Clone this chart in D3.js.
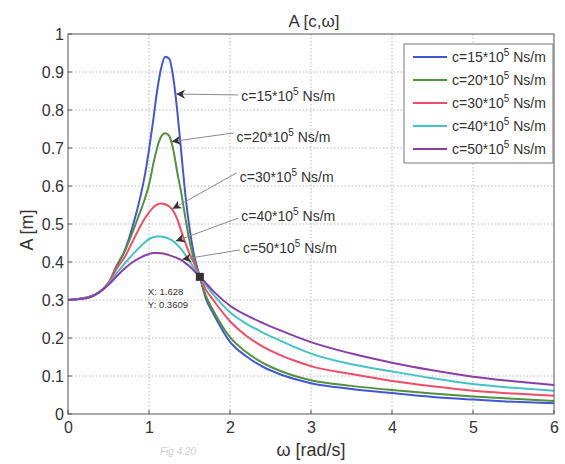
<!DOCTYPE html>
<html>
<head>
<meta charset="utf-8">
<script src="https://cdn.jsdelivr.net/npm/d3@7"></script>
<style>
  body { margin: 0; background: #fff; }
  text { font-family: "Liberation Sans", Arial, sans-serif; fill: #333; }
</style>
</head>
<body>
<div id="chart"></div>
<script>
// frequency samples (rad/s)
const omega = [0, 0.25, 0.5, 0.6, 0.7, 0.8, 0.9, 0.95, 1.0, 1.05, 1.1, 1.15, 1.2, 1.25, 1.3, 1.35,
  1.4, 1.45, 1.5, 1.55, 1.628, 1.7, 1.8, 2.0, 2.2, 2.4, 2.6, 2.8, 3.0, 3.5, 4.0, 4.5, 5.0, 5.5, 6.0];

// amplitude A [m] for each damping value
const ampC15 = [0.300, 0.307, 0.345, 0.390, 0.430, 0.495, 0.578, 0.630, 0.695, 0.770, 0.850, 0.910, 0.940, 0.935, 0.885, 0.795,
  0.685, 0.575, 0.490, 0.425, 0.361, 0.305, 0.262, 0.190, 0.152, 0.125, 0.106, 0.092, 0.081, 0.066, 0.055, 0.045, 0.038, 0.032, 0.028];
const ampC20 = [0.300, 0.307, 0.345, 0.388, 0.428, 0.480, 0.537, 0.567, 0.603, 0.655, 0.700, 0.730, 0.739, 0.732, 0.695, 0.635,
  0.580, 0.515, 0.455, 0.410, 0.361, 0.312, 0.270, 0.202, 0.163, 0.135, 0.115, 0.100, 0.089, 0.074, 0.063, 0.054, 0.046, 0.040, 0.034];
const ampC30 = [0.300, 0.307, 0.344, 0.382, 0.413, 0.455, 0.497, 0.515, 0.530, 0.543, 0.551, 0.554, 0.552, 0.546, 0.534, 0.512,
  0.480, 0.450, 0.422, 0.400, 0.361, 0.328, 0.298, 0.244, 0.206, 0.178, 0.157, 0.140, 0.126, 0.105, 0.087, 0.073, 0.061, 0.054, 0.048];
const ampC40 = [0.300, 0.306, 0.342, 0.370, 0.396, 0.420, 0.442, 0.452, 0.460, 0.465, 0.467, 0.467, 0.465, 0.461, 0.455, 0.445,
  0.433, 0.418, 0.402, 0.386, 0.361, 0.340, 0.313, 0.268, 0.238, 0.215, 0.195, 0.176, 0.159, 0.131, 0.112, 0.094, 0.079, 0.069, 0.061];
const ampC50 = [0.300, 0.306, 0.340, 0.362, 0.383, 0.400, 0.412, 0.417, 0.421, 0.424, 0.424, 0.423, 0.421, 0.418, 0.414, 0.410,
  0.405, 0.397, 0.389, 0.378, 0.361, 0.345, 0.322, 0.285, 0.260, 0.240, 0.222, 0.205, 0.189, 0.159, 0.135, 0.115, 0.098, 0.086, 0.076];

const damping = ["15", "20", "30", "40", "50"];
const amps = [ampC15, ampC20, ampC30, ampC40, ampC50];
const colors = ["#4257d6", "#53923a", "#f04c68", "#45c2c6", "#8a3fa6"];

const xTicks = [0, 1, 2, 3, 4, 5, 6];
const yTicks = [0, 0.1, 0.2, 0.3, 0.4, 0.5, 0.6, 0.7, 0.8, 0.9, 1];

// annotation arrows (tip on curve, text start)
const tipW = [1.335, 1.28, 1.29, 1.33, 1.41];
const tipA = [0.842, 0.717, 0.540, 0.455, 0.407];
const labelW = [2.14, 2.08, 2.12, 2.14, 2.16];
const labelA = [0.837, 0.729, 0.624, 0.521, 0.437];

// data tip
const markW = 1.628;
const markA = 0.3609;

let margin = { top: 34, right: 11, bottom: 50, left: 68 };
let width = 565 - margin.left - margin.right;
let height = 464 - margin.top - margin.bottom;

let svg = d3.select('#chart')
    .append('svg')
        .attr('width', 565)
        .attr('height', 464);

let g = svg.append('g')
    .attr('transform', "translate(" + margin.left + "," + margin.top + ")");

let defs = svg.append('defs');
defs.append('marker')
    .attr('id', 'head')
    .attr('viewBox', '0 0 10 10')
    .attr('refX', 10).attr('refY', 5)
    .attr('markerWidth', 9).attr('markerHeight', 9)
    .attr('markerUnits', 'userSpaceOnUse')
    .attr('orient', 'auto')
    .append('path')
        .attr('d', 'M0,0 L10,5 L0,10 L3,5 Z')
        .attr('fill', '#333');

let x = d3.scaleLinear().domain([0, 6]).range([0, width]);
let y = d3.scaleLinear().domain([0, 1]).range([height, 0]);

// grid
g.append('g')
    .selectAll('line')
    .data(xTicks.slice(1, -1))
    .enter().append('line')
        .attr('x1', d => x(d)).attr('x2', d => x(d))
        .attr('y1', 0).attr('y2', height)
        .attr('stroke', '#b8b8b8')
        .attr('stroke-dasharray', '1.5,2');

g.append('g')
    .selectAll('line')
    .data(yTicks.slice(1, -1))
    .enter().append('line')
        .attr('y1', d => y(d)).attr('y2', d => y(d))
        .attr('x1', 0).attr('x2', width)
        .attr('stroke', '#b8b8b8')
        .attr('stroke-dasharray', '1.5,2');

// axes
let xAxis = g.append('g')
    .attr('transform', "translate(0," + height + ")")
    .call(d3.axisBottom(x).tickValues(xTicks).tickSize(0).tickPadding(8).tickFormat(d3.format('d')));
let yAxis = g.append('g')
    .call(d3.axisLeft(y).tickValues(yTicks).tickSize(0).tickPadding(4).tickFormat(d => d));

[xAxis, yAxis].forEach(function (a) {
    a.select('.domain').remove();
    a.selectAll('text').attr('font-size', '16px').attr('fill', '#333')
        .attr('font-family', '"Liberation Sans", Arial, sans-serif');
});

// small inward ticks like matlab
g.append('g').selectAll('line').data(xTicks).enter().append('line')
    .attr('x1', d => x(d)).attr('x2', d => x(d))
    .attr('y1', height).attr('y2', height - 4)
    .attr('stroke', '#555');
g.append('g').selectAll('line').data(yTicks).enter().append('line')
    .attr('y1', d => y(d)).attr('y2', d => y(d))
    .attr('x1', 0).attr('x2', 4)
    .attr('stroke', '#555');

// curves
let line = d3.line()
    .x(function (d) { return x(d[0]); })
    .y(function (d) { return y(d[1]); })
    .curve(d3.curveMonotoneX);

amps.forEach(function (vals, i) {
    g.append('path')
        .datum(omega.map((w, k) => [w, vals[k]]))
        .attr('fill', 'none')
        .attr('stroke', colors[i])
        .attr('stroke-width', 2)
        .attr('d', line);
});

// box
g.append('rect')
    .attr('width', width).attr('height', height)
    .attr('fill', 'none')
    .attr('stroke', '#555');

// label helper with superscript
function cLabel(sel, c) {
    sel.append('tspan').text('c=' + c + '*10');
    sel.append('tspan').attr('dy', -6).attr('font-size', '10px').text('5');
    sel.append('tspan').attr('dy', 6).text(' Ns/m');
}

// annotations
damping.forEach(function (c, i) {
    g.append('line')
        .attr('x1', x(labelW[i]) - 3).attr('y1', y(labelA[i]) + (i === 0 ? -1 : i < 3 ? -4 : 2))
        .attr('x2', x(tipW[i])).attr('y2', y(tipA[i]))
        .attr('stroke', '#8a8a8a')
        .attr('stroke-width', 1)
        .attr('marker-end', 'url(#head)');
    let t = g.append('text')
        .attr('x', x(labelW[i]))
        .attr('y', y(labelA[i]))
        .attr('dy', '0.35em')
        .attr('font-size', '14px');
    cLabel(t, c);
});

// data tip marker
g.append('rect')
    .attr('x', x(markW) - 4).attr('y', y(markA) - 4)
    .attr('width', 8).attr('height', 8)
    .attr('fill', '#333');
g.append('text')
    .attr('x', x(markW) - 52).attr('y', y(markA) + 18)
    .attr('font-size', '9.5px')
    .attr('fill', '#555')
    .text('X: ' + markW);
g.append('text')
    .attr('x', x(markW) - 52).attr('y', y(markA) + 31)
    .attr('font-size', '9.5px')
    .attr('fill', '#555')
    .text('Y: ' + markA);

// legend
let legend = g.append('g').attr('transform', "translate(" + (width - 150) + ",10)");
legend.append('rect')
    .attr('width', 149).attr('height', 119)
    .attr('fill', '#fff')
    .attr('stroke', '#777');
damping.forEach(function (c, i) {
    let row = legend.append('g').attr('transform', "translate(0," + (13 + i * 23) + ")");
    row.append('line')
        .attr('x1', 9).attr('x2', 43)
        .attr('stroke', colors[i])
        .attr('stroke-width', 2);
    let t = row.append('text')
        .attr('x', 48).attr('dy', '0.35em')
        .attr('font-size', '14px');
    cLabel(t, c);
});

// title
svg.append('text')
    .attr('x', margin.left + width / 2 + 3)
    .attr('y', 27)
    .attr('text-anchor', 'middle')
    .attr('font-size', '17px')
    .text('A [c,\u03c9]');

// X Label
svg.append('text')
    .attr('x', margin.left + width / 2)
    .attr('y', 456)
    .attr('text-anchor', 'middle')
    .attr('font-size', '18px')
    .text('\u03c9 [rad/s]');

// Y Label
svg.append('text')
    .attr('transform', 'translate(33,230) rotate(-90)')
    .attr('text-anchor', 'middle')
    .attr('font-size', '18px')
    .text('A [m]');

// faint pencil note
svg.append('text')
    .attr('x', 160).attr('y', 455)
    .attr('font-size', '10px')
    .attr('font-style', 'italic')
    .attr('fill', '#cfcfcf')
    .style('fill', '#cfcfcf')
    .text('Fig 4.20');
</script>
</body>
</html>
